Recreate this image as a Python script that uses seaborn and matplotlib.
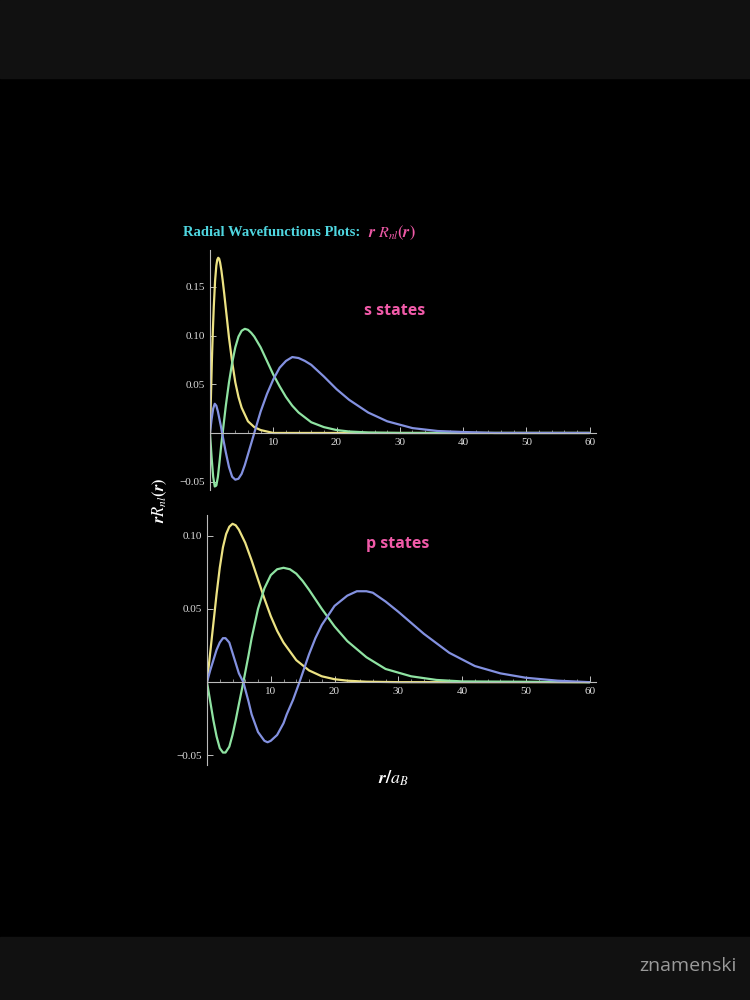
import matplotlib
matplotlib.use("Agg")
import matplotlib.pyplot as plt
import seaborn as sns

sns.set_theme(style="dark")
plt.rcParams['font.family'] = ['Liberation Serif', 'DejaVu Serif']
plt.rcParams['mathtext.fontset'] = 'stix'

s_yel_x = [0, 0.15, 0.3, 0.45, 0.6, 0.8, 1, 1.15, 1.3, 1.45, 1.6, 1.8, 2, 2.25, 2.5, 2.75, 3, 3.5, 4, 4.5, 5, 6, 7, 8, 10, 60]
s_yel_y = [0, 0.038, 0.075, 0.105, 0.13, 0.156, 0.172, 0.178, 0.18, 0.179, 0.175, 0.167, 0.157, 0.143, 0.128, 0.113, 0.098, 0.073, 0.052, 0.037, 0.026, 0.012, 0.006, 0.003, 0.0, 0.0]
s_grn_x = [0, 0.25, 0.5, 0.75, 1, 1.25, 1.5, 1.75, 2, 2.5, 3, 3.5, 4, 4.5, 5, 5.5, 6, 6.5, 7, 8, 9, 10, 11, 12, 13, 14, 16, 18, 20, 22, 25, 30, 60]
s_grn_y = [0, -0.025, -0.045, -0.055, -0.054, -0.045, -0.03, -0.014, 0.0, 0.028, 0.052, 0.072, 0.088, 0.099, 0.105, 0.107, 0.106, 0.103, 0.099, 0.088, 0.074, 0.06, 0.048, 0.037, 0.028, 0.021, 0.011, 0.006, 0.003, 0.0015, 0.0005, 0, 0]
s_blu_x = [0, 0.25, 0.5, 0.75, 1, 1.25, 1.5, 1.75, 2, 2.5, 3, 3.5, 4, 4.5, 5, 5.5, 6, 6.5, 7, 7.5, 8, 9, 10, 11, 12, 13, 14, 15, 16, 18, 20, 22, 25, 28, 32, 36, 40, 45, 60]
s_blu_y = [0, 0.014, 0.025, 0.03, 0.028, 0.022, 0.014, 0.006, -0.003, -0.02, -0.035, -0.045, -0.048, -0.047, -0.042, -0.033, -0.022, -0.011, 0.0, 0.011, 0.022, 0.04, 0.055, 0.067, 0.074, 0.078, 0.077, 0.074, 0.07, 0.058, 0.045, 0.034, 0.021, 0.012, 0.005, 0.002, 0.001, 0, 0]

p_yel_x = [0, 0.5, 1, 1.5, 2, 2.5, 3, 3.5, 4, 4.5, 5, 6, 7, 8, 9, 10, 11, 12, 14, 16, 18, 20, 22, 25, 30, 60]
p_yel_y = [0, 0.02, 0.04, 0.06, 0.078, 0.092, 0.101, 0.106, 0.108, 0.107, 0.104, 0.095, 0.083, 0.07, 0.057, 0.045, 0.035, 0.027, 0.015, 0.008, 0.004, 0.002, 0.001, 0.0003, 0, 0]
p_grn_x = [0, 0.5, 1, 1.5, 2, 2.5, 2.9, 3.5, 4, 4.5, 5, 5.7, 6.5, 7, 8, 9, 10, 11, 12, 13, 14, 15, 16, 18, 20, 22, 25, 28, 32, 36, 40, 60]
p_grn_y = [0, -0.013, -0.026, -0.037, -0.045, -0.048, -0.048, -0.044, -0.036, -0.026, -0.015, 0, 0.018, 0.03, 0.05, 0.064, 0.073, 0.077, 0.078, 0.077, 0.074, 0.069, 0.063, 0.05, 0.038, 0.028, 0.017, 0.009, 0.004, 0.0015, 0.0005, 0]
p_blu_x = [0, 0.5, 1, 1.5, 2, 2.5, 2.9, 3.5, 4, 4.5, 5, 5.7, 6.5, 7, 8, 9, 9.5, 10, 11, 12, 12.5, 13.5, 14.5, 16, 17, 18, 20, 22, 23.5, 25, 26, 28, 30, 34, 38, 42, 46, 50, 55, 60]
p_blu_y = [0, 0.008, 0.015, 0.022, 0.027, 0.03, 0.03, 0.027, 0.02, 0.013, 0.006, 0, -0.013, -0.022, -0.034, -0.04, -0.041, -0.04, -0.036, -0.028, -0.022, -0.012, 0, 0.019, 0.03, 0.039, 0.052, 0.059, 0.062, 0.062, 0.061, 0.055, 0.048, 0.033, 0.02, 0.011, 0.006, 0.003, 0.001, 0]

YEL, GRN, BLU = "#ece283", "#8fe3a2", "#8391e0"
W, H = 750, 1000
fig = plt.figure(figsize=(7.5, 10), dpi=100, facecolor="black")
for y0, h in [(0, 78), (937, 63)]:
    fig.patches.append(plt.Rectangle((0, 1 - (y0 + h) / H), 1, h / H, transform=fig.transFigure, color="#111111", zorder=0))

def mk(left, top, right, bottom):
    return fig.add_axes([left / W, 1 - bottom / H, (right - left) / W, (bottom - top) / H])

def style(ax, ylim, yticks):
    ax.set_facecolor("black")
    ax.set_xlim(0, 61)
    ax.set_ylim(*ylim)
    for s in ["top", "right"]:
        ax.spines[s].set_visible(False)
    ax.spines["bottom"].set_position(("data", 0))
    ax.spines["left"].set_position(("data", 0))
    for s in ["bottom", "left"]:
        ax.spines[s].set_color("#bbbbbb")
        ax.spines[s].set_linewidth(0.8)
    ax.set_xticks([10, 20, 30, 40, 50, 60])
    ax.set_xticks(range(2, 61, 2), minor=True)
    ax.set_yticks(yticks)
    ax.set_yticklabels([("%.2f" % v).replace("-", "\u2212") for v in yticks])
    ax.tick_params(colors="#dddddd", labelsize=8, direction="in", length=4, width=0.6, left=True, bottom=True)
    ax.tick_params(which="minor", direction="in", length=2.5, width=0.5, color="#bbbbbb", bottom=True)
    ax.grid(False)
    ax.set_xlabel(""); ax.set_ylabel("")

ax1 = mk(210, 250, 596, 490)
for xs, ys, c in [(s_yel_x, s_yel_y, YEL), (s_grn_x, s_grn_y, GRN), (s_blu_x, s_blu_y, BLU)]:
    sns.lineplot(x=xs, y=ys, ax=ax1, color=c, lw=1.6, sort=False)
style(ax1, (-0.0586, 0.188), [-0.05, 0.05, 0.10, 0.15])
ax1.text(0.40, 0.73, "s states", transform=ax1.transAxes, color="#f05aa8", fontsize=11.5, fontweight="bold", family="Open Sans")

ax2 = mk(207, 515, 596, 765)
for xs, ys, c in [(p_yel_x, p_yel_y, YEL), (p_grn_x, p_grn_y, GRN), (p_blu_x, p_blu_y, BLU)]:
    sns.lineplot(x=xs, y=ys, ax=ax2, color=c, lw=1.6, sort=False)
style(ax2, (-0.0565, 0.114), [-0.05, 0.05, 0.10])
ax2.text(0.41, 0.87, "p states", transform=ax2.transAxes, color="#f05aa8", fontsize=11.5, fontweight="bold", family="Open Sans")

fig.text(183 / W, 1 - 233 / H, "Radial Wavefunctions Plots:", color="#4fd6e0", fontsize=10.5, fontweight="bold", va="center")
fig.text(368 / W, 1 - 233 / H, r"$\boldsymbol{r\ R_{nl}(r)}$", color="#f05aa8", fontsize=11.5, va="center")
fig.text(160 / W, 1 - 500 / H, r"$\boldsymbol{r R_{nl}(r)}$", color="white", fontsize=12, rotation=90, va="center", ha="center")
fig.text(393 / W, 1 - 778 / H, r"$\boldsymbol{r/a_B}$", color="white", fontsize=13, va="center", ha="center")
fig.text(688 / W, 1 - 966 / H, "znamenski", color="#9a9a9a", fontsize=14, family="Open Sans", va="center", ha="center")
fig.savefig("out.png", dpi=100, facecolor="black")
